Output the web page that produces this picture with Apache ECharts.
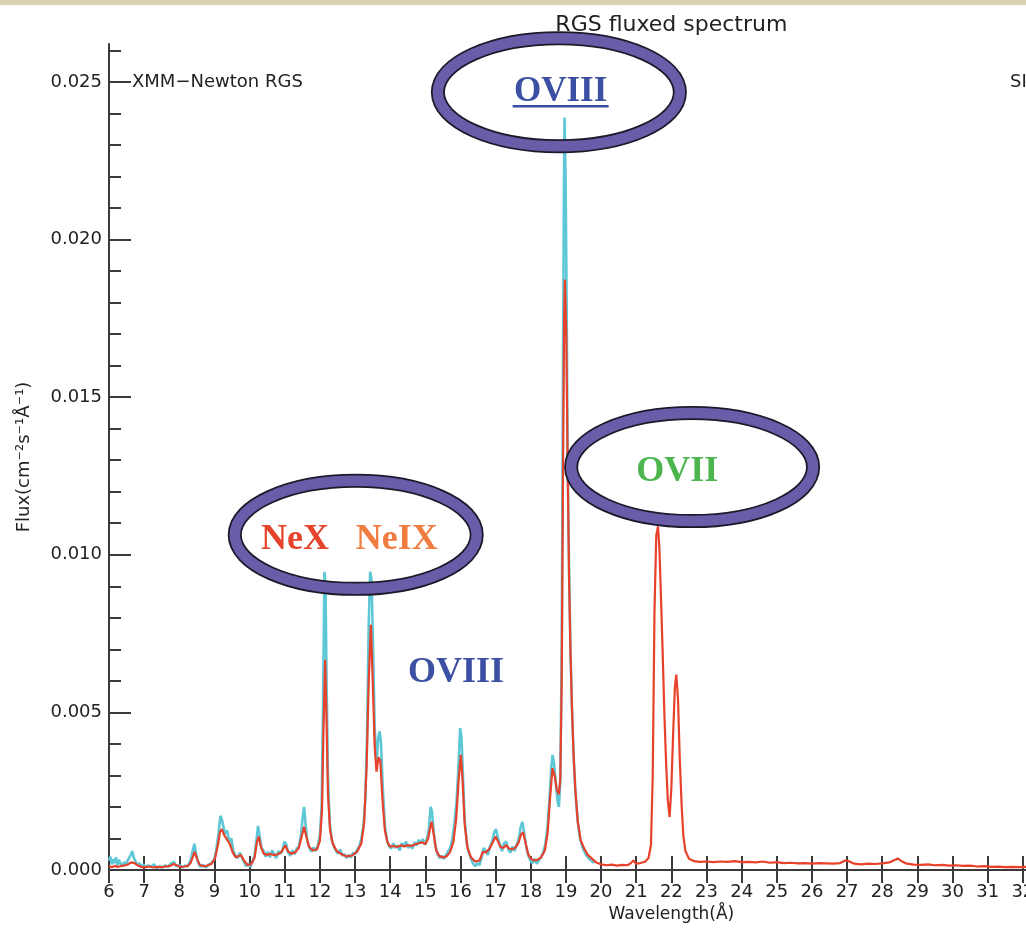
<!DOCTYPE html>
<html>
<head>
    <meta charset="utf-8">
    <style>
        body{
            margin: 0;
            background: #fff;
        }
        #chart-container{
            width: 1026px;
            height: 931px;
        }
    </style>
</head>
<body>
    <div id="chart-container"></div>

    <script type="text/javascript" src="https://cdn.jsdelivr.net/npm/echarts@6/dist/echarts.min.js"></script>
    <script type="text/javascript">
        // observed spectrum (cyan), [wavelength A, flux]
        var dataSpectrum = [
            [6.00,0.00030],[6.04,0.00042],[6.08,0.00018],[6.12,0.00035],[6.16,0.00022],[6.20,0.00040],[6.24,0.00015],[6.28,0.00032],
            [6.33,0.00020],[6.38,0.00012],[6.43,0.00025],[6.48,0.00018],[6.53,0.00030],[6.58,0.00035],[6.62,0.00048],[6.66,0.00060],
            [6.70,0.00040],[6.75,0.00028],[6.80,0.00016],[6.86,0.00022],[6.92,0.00010],[6.98,0.00018],[7.05,0.00008],[7.12,0.00015],
            [7.20,0.00010],[7.28,0.00018],[7.36,0.00006],[7.44,0.00012],[7.52,0.00008],[7.60,0.00015],[7.68,0.00010],[7.76,0.00020],
            [7.84,0.00026],[7.92,0.00012],[8.00,0.00016],[8.08,0.00008],[8.16,0.00014],[8.24,0.00012],[8.32,0.00030],[8.38,0.00060],
            [8.43,0.00083],[8.48,0.00050],[8.54,0.00022],[8.60,0.00010],[8.68,0.00016],[8.76,0.00008],[8.84,0.00018],[8.92,0.00022],
            [9.00,0.00035],[9.06,0.00070],[9.12,0.00120],[9.17,0.00172],[9.21,0.00160],[9.25,0.00140],[9.30,0.00115],[9.36,0.00125],
            [9.42,0.00090],[9.48,0.00100],[9.54,0.00060],[9.60,0.00045],[9.66,0.00038],[9.72,0.00055],[9.77,0.00050],[9.83,0.00028],
            [9.90,0.00012],[9.96,0.00020],[10.02,0.00010],[10.08,0.00025],[10.14,0.00045],[10.19,0.00090],[10.24,0.00140],[10.29,0.00105],
            [10.34,0.00070],[10.40,0.00060],[10.46,0.00042],[10.52,0.00058],[10.58,0.00040],[10.64,0.00062],[10.70,0.00050],[10.76,0.00038],
            [10.82,0.00060],[10.88,0.00052],[10.94,0.00065],[10.99,0.00090],[11.04,0.00082],[11.10,0.00055],[11.16,0.00045],[11.22,0.00062],
            [11.28,0.00050],[11.34,0.00068],[11.40,0.00075],[11.46,0.00110],[11.51,0.00165],[11.55,0.00200],[11.59,0.00150],[11.64,0.00095],
            [11.70,0.00070],[11.76,0.00058],[11.82,0.00072],[11.88,0.00060],[11.94,0.00078],[12.00,0.00110],[12.05,0.00200],[12.09,0.00520],
            [12.13,0.00946],[12.16,0.00900],[12.19,0.00600],[12.23,0.00300],[12.28,0.00150],[12.34,0.00095],[12.40,0.00075],[12.46,0.00060],
            [12.52,0.00052],[12.58,0.00065],[12.64,0.00045],[12.70,0.00050],[12.76,0.00038],[12.82,0.00048],[12.88,0.00040],[12.94,0.00055],
            [13.00,0.00050],[13.06,0.00065],[13.12,0.00075],[13.18,0.00100],[13.24,0.00140],[13.29,0.00220],[13.34,0.00420],[13.39,0.00780],
            [13.43,0.00946],[13.47,0.00920],[13.51,0.00720],[13.56,0.00450],[13.61,0.00330],[13.66,0.00420],[13.70,0.00440],[13.74,0.00400],
            [13.79,0.00260],[13.85,0.00140],[13.91,0.00095],[13.97,0.00075],[14.03,0.00068],[14.09,0.00085],[14.15,0.00070],[14.21,0.00078],
            [14.27,0.00062],[14.33,0.00085],[14.39,0.00075],[14.45,0.00090],[14.51,0.00070],[14.57,0.00080],[14.63,0.00068],[14.69,0.00088],
            [14.75,0.00078],[14.81,0.00095],[14.87,0.00085],[14.93,0.00098],[14.99,0.00080],[15.05,0.00100],[15.10,0.00130],[15.15,0.00200],
            [15.19,0.00185],[15.24,0.00120],[15.29,0.00075],[15.35,0.00050],[15.41,0.00038],[15.47,0.00045],[15.53,0.00035],[15.59,0.00048],
            [15.65,0.00060],[15.71,0.00070],[15.77,0.00100],[15.83,0.00150],[15.89,0.00220],[15.94,0.00320],[15.99,0.00450],[16.03,0.00420],
            [16.07,0.00300],[16.12,0.00160],[16.18,0.00085],[16.24,0.00055],[16.30,0.00035],[16.36,0.00020],[16.42,0.00012],[16.48,0.00022],
            [16.54,0.00015],[16.60,0.00040],[16.66,0.00070],[16.72,0.00060],[16.78,0.00048],[16.84,0.00075],[16.90,0.00090],[16.96,0.00120],
            [17.01,0.00130],[17.06,0.00105],[17.12,0.00080],[17.18,0.00060],[17.24,0.00085],[17.30,0.00090],[17.36,0.00065],[17.42,0.00055],
            [17.48,0.00075],[17.54,0.00060],[17.60,0.00080],[17.66,0.00100],[17.71,0.00135],[17.76,0.00153],[17.81,0.00120],[17.87,0.00075],
            [17.93,0.00045],[17.99,0.00030],[18.05,0.00022],[18.11,0.00035],[18.17,0.00020],[18.23,0.00030],[18.29,0.00040],[18.35,0.00055],
            [18.41,0.00080],[18.47,0.00130],[18.53,0.00220],[18.58,0.00320],[18.62,0.00365],[18.66,0.00340],[18.71,0.00280],[18.76,0.00220],
            [18.80,0.00200],[18.84,0.00280],[18.88,0.00700],[18.91,0.01400],[18.94,0.02100],[18.96,0.02387],[18.99,0.02200],[19.02,0.01800],
            [19.05,0.01300],[19.09,0.00950],[19.13,0.00700],[19.17,0.00520],[19.22,0.00360],[19.27,0.00250],[19.33,0.00160],[19.40,0.00100],
            [19.48,0.00070],[19.56,0.00050],[19.64,0.00038],[19.72,0.00030],[19.80,0.00022]
        ];

        // model spectrum (red), [wavelength A, flux]
        var modelSpectrum = [
            [6.00,0.00012],[6.08,0.00009],[6.16,0.00013],[6.24,0.00010],[6.32,0.00012],[6.40,0.00014],[6.48,0.00015],[6.56,0.00019],
            [6.63,0.00024],[6.68,0.00026],[6.74,0.00021],[6.82,0.00014],[6.92,0.00010],[7.02,0.00009],[7.14,0.00011],[7.26,0.00008],
            [7.38,0.00010],[7.50,0.00009],[7.62,0.00011],[7.74,0.00013],[7.84,0.00019],[7.92,0.00015],[8.02,0.00010],[8.14,0.00011],
            [8.24,0.00013],[8.32,0.00022],[8.38,0.00040],[8.44,0.00058],[8.50,0.00036],[8.58,0.00017],[8.68,0.00012],[8.80,0.00014],
            [8.92,0.00020],[9.02,0.00038],[9.10,0.00080],[9.16,0.00122],[9.21,0.00130],[9.27,0.00112],[9.35,0.00098],[9.44,0.00082],
            [9.52,0.00056],[9.60,0.00041],[9.68,0.00043],[9.75,0.00048],[9.84,0.00030],[9.94,0.00016],[10.04,0.00018],[10.14,0.00038],
            [10.21,0.00090],[10.26,0.00106],[10.32,0.00074],[10.40,0.00052],[10.50,0.00048],[10.60,0.00051],[10.70,0.00047],[10.80,0.00050],
            [10.90,0.00056],[10.97,0.00070],[11.02,0.00078],[11.08,0.00061],[11.18,0.00052],[11.30,0.00056],[11.40,0.00070],[11.48,0.00105],
            [11.55,0.00137],[11.61,0.00108],[11.69,0.00074],[11.80,0.00062],[11.92,0.00066],[12.00,0.00092],[12.06,0.00190],[12.10,0.00430],
            [12.15,0.00667],[12.19,0.00470],[12.23,0.00240],[12.29,0.00125],[12.37,0.00082],[12.48,0.00060],[12.62,0.00050],[12.76,0.00043],
            [12.92,0.00046],[13.06,0.00058],[13.18,0.00085],[13.26,0.00150],[13.33,0.00330],[13.39,0.00600],[13.45,0.00778],[13.50,0.00610],
            [13.56,0.00390],[13.61,0.00312],[13.67,0.00358],[13.72,0.00345],[13.78,0.00225],[13.85,0.00125],[13.92,0.00088],[14.00,0.00074],
            [14.10,0.00076],[14.20,0.00073],[14.30,0.00078],[14.40,0.00075],[14.50,0.00079],[14.60,0.00076],[14.70,0.00081],[14.80,0.00084],
            [14.90,0.00088],[15.00,0.00082],[15.08,0.00100],[15.13,0.00130],[15.18,0.00153],[15.24,0.00112],[15.31,0.00062],[15.40,0.00044],
            [15.50,0.00040],[15.60,0.00043],[15.70,0.00056],[15.80,0.00090],[15.88,0.00165],[15.95,0.00290],[16.01,0.00365],[16.06,0.00285],
            [16.12,0.00145],[16.20,0.00070],[16.30,0.00040],[16.42,0.00027],[16.54,0.00030],[16.64,0.00058],[16.72,0.00056],[16.82,0.00066],
            [16.92,0.00088],[17.00,0.00106],[17.07,0.00090],[17.14,0.00073],[17.22,0.00070],[17.30,0.00079],[17.38,0.00068],[17.47,0.00065],
            [17.56,0.00071],[17.65,0.00086],[17.72,0.00112],[17.78,0.00120],[17.84,0.00092],[17.92,0.00052],[18.00,0.00036],[18.10,0.00030],
            [18.20,0.00033],[18.30,0.00041],[18.40,0.00062],[18.48,0.00118],[18.55,0.00230],[18.62,0.00323],[18.68,0.00298],[18.74,0.00255],
            [18.80,0.00240],[18.84,0.00290],[18.88,0.00600],[18.92,0.01300],[18.95,0.01750],[18.97,0.01873],[19.01,0.01700],[19.05,0.01280],
            [19.09,0.00920],[19.13,0.00690],[19.17,0.00520],[19.22,0.00360],[19.27,0.00250],[19.34,0.00150],[19.42,0.00095],[19.52,0.00068],
            [19.62,0.00048],[19.74,0.00036],[19.86,0.00024],[20.00,0.00018],[20.15,0.00015],[20.30,0.00017],[20.45,0.00014],[20.60,0.00016],
            [20.75,0.00015],[20.85,0.00022],[20.92,0.00030],[21.00,0.00020],[21.12,0.00022],[21.25,0.00026],[21.35,0.00038],[21.42,0.00080],
            [21.47,0.00300],[21.52,0.00820],[21.57,0.01060],[21.62,0.01090],[21.66,0.01020],[21.70,0.00880],[21.75,0.00700],[21.80,0.00500],
            [21.85,0.00340],[21.90,0.00220],[21.95,0.00168],[22.00,0.00260],[22.05,0.00430],[22.10,0.00580],[22.14,0.00620],[22.19,0.00540],
            [22.24,0.00350],[22.29,0.00210],[22.34,0.00110],[22.40,0.00060],[22.50,0.00036],[22.65,0.00028],[22.80,0.00026],[23.00,0.00027],
            [23.20,0.00025],[23.40,0.00027],[23.60,0.00026],[23.80,0.00028],[24.00,0.00025],[24.20,0.00026],[24.40,0.00024],[24.60,0.00027],
            [24.80,0.00023],[25.00,0.00025],[25.20,0.00022],[25.40,0.00023],[25.60,0.00021],[25.80,0.00022],[26.00,0.00020],[26.20,0.00022],
            [26.40,0.00021],[26.60,0.00020],[26.80,0.00022],[26.95,0.00030],[27.05,0.00028],[27.20,0.00020],[27.40,0.00018],[27.60,0.00020],
            [27.80,0.00019],[28.00,0.00021],[28.20,0.00024],[28.35,0.00032],[28.45,0.00036],[28.55,0.00028],[28.70,0.00020],[28.90,0.00017],
            [29.10,0.00016],[29.30,0.00018],[29.50,0.00015],[29.70,0.00016],[29.90,0.00014],[30.10,0.00015],[30.30,0.00013],[30.50,0.00014],
            [30.70,0.00011],[30.90,0.00012],[31.10,0.00010],[31.30,0.00011],[31.50,0.00009],[31.70,0.00010],[31.90,0.00009],[32.10,0.00010],
            [32.30,0.00009]
        ];

        // tick values
        var waveTicks = [6,7,8,9,10,11,12,13,14,15,16,17,18,19,20,21,22,23,24,25,26,27,28,29,30,31,32];
        var fluxLabels = [0, 0.005, 0.010, 0.015, 0.020, 0.025];
        var fluxMinorTicks = [0,0.001,0.002,0.003,0.004,0.005,0.006,0.007,0.008,0.009,0.010,0.011,0.012,0.013,
            0.014,0.015,0.016,0.017,0.018,0.019,0.020,0.021,0.022,0.023,0.024,0.025,0.026];

        // line labels: text, colour, wavelength, flux (centre)
        var lineLabels = [
            { text: 'OVIII', color: '#3b4fa3', wave: 18.85, flux: 0.02467, size: 35, underline: true },
            { text: 'NeX', color: '#e5432c', wave: 11.29, flux: 0.01048, size: 36 },
            { text: 'NeIX', color: '#f07c40', wave: 14.19, flux: 0.01048, size: 36 },
            { text: 'OVIII', color: '#3b4fa3', wave: 15.87, flux: 0.00625, size: 36 },
            { text: 'OVII', color: '#4db54d', wave: 22.17, flux: 0.01263, size: 36 }
        ];
        // ring centres: wavelength, flux
        var ringCentres = [
            [18.80, 0.02467],
            [13.02, 0.01063],
            [22.59, 0.01278]
        ];
        // the plot's horizontal centre (title and axis name sit on it)
        var plotCentreWave = 22;

        var waveMin = 6, waveMax = 32.09;
        var fluxMax = 0.0262;

        var axisColor = '#3a3a3a';
        var labelFont = 'DejaVu Sans';

        var chartDom = document.getElementById('chart-container');
        var myChart = echarts.init(chartDom);

        var option = {
            animation: false,
            backgroundColor: '#fff',
            grid: { left: 109, top: 44, bottom: 61, right: 0, outerBoundsMode: 'none' },
            xAxis: [
                {
                    type: 'value', min: waveMin, max: waveMax,
                    axisLine: { show: true, lineStyle: { color: axisColor, width: 2 } },
                    axisTick: { inside: true, length: 14, customValues: waveTicks, lineStyle: { color: axisColor, width: 2 } },
                    axisLabel: { fontFamily: labelFont, fontSize: 18, color: '#222', margin: 13, customValues: waveTicks },
                    splitLine: { show: false }
                },
                {
                    type: 'value', position: 'top', min: waveMin, max: waveMax,
                    axisLine: { show: true, lineStyle: { color: axisColor, width: 2 } },
                    axisTick: { inside: true, length: 13, customValues: waveTicks, lineStyle: { color: axisColor, width: 2 } },
                    axisLabel: { show: false },
                    splitLine: { show: false }
                }
            ],
            yAxis: [
                {
                    type: 'value', position: 'left', min: 0, max: fluxMax,
                    name: 'Flux(cm⁻²s⁻¹Å⁻¹)', nameLocation: 'middle', nameGap: 76,
                    nameTextStyle: { fontFamily: labelFont, fontSize: 18, color: '#222' },
                    axisLine: { show: true, lineStyle: { color: axisColor, width: 2 } },
                    axisTick: { inside: true, length: 12, customValues: fluxMinorTicks, lineStyle: { color: axisColor, width: 2 } },
                    axisLabel: {
                        fontFamily: labelFont, fontSize: 18, color: '#222', margin: 7,
                        customValues: fluxLabels,
                        formatter: function (v) { return v.toFixed(3); }
                    },
                    splitLine: { show: false }
                },
                {
                    // longer ticks on the labelled values
                    type: 'value', position: 'left', offset: 0, min: 0, max: fluxMax,
                    axisLine: { show: false },
                    axisTick: { inside: true, length: 22, customValues: fluxLabels, lineStyle: { color: axisColor, width: 2 } },
                    axisLabel: { show: false },
                    splitLine: { show: false }
                }
            ],
            series: [
                {
                    name: 'data', type: 'line', data: dataSpectrum,
                    showSymbol: false, symbol: 'none',
                    lineStyle: { color: '#5ec7d6', width: 2.6 },
                    z: 2
                },
                {
                    name: 'model', type: 'line', data: modelSpectrum,
                    showSymbol: false, symbol: 'none',
                    lineStyle: { color: '#e8412b', width: 2.2 },
                    z: 3
                }
            ]
        };
        myChart.setOption(option);

        // annotations placed from data coordinates
        var toPx = function (w, f) {
            return myChart.convertToPixel({ gridIndex: 0 }, [w, f]);
        };
        var txt = function (text, x, y, font, fill, align, z) {
            return {
                type: 'text', z: z || 100,
                style: {
                    text: text, x: x, y: y, font: font, fill: fill,
                    textAlign: align, textVerticalAlign: 'middle', align: align, verticalAlign: 'middle'
                }
            };
        };
        var elements = [];
        elements.push({
            type: 'rect', shape: { x: 0, y: 0, width: 1026, height: 5 },
            style: { fill: '#d9d3b4' }, z: 100
        });
        var pTop = toPx(plotCentreWave, fluxMax);
        var pBottom = toPx(plotCentreWave, 0);
        elements.push(txt('RGS fluxed spectrum', pTop[0], pTop[1] - 19, '22px "DejaVu Sans"', '#222', 'center'));
        elements.push(txt('Wavelength(Å)', pBottom[0], pBottom[1] + 45, '17px "DejaVu Sans"', '#222', 'center'));
        var p25 = toPx(waveMin, 0.025);
        elements.push(txt('XMM−Newton RGS', p25[0] + 23, p25[1], '18px "DejaVu Sans"', '#222', 'left'));
        elements.push(txt('SI', 1010, p25[1], '18px "DejaVu Sans"', '#222', 'left'));
        ringCentres.forEach(function (c) {
            var p = toPx(c[0], c[1]);
            elements.push({
                type: 'ellipse', z: 110,
                shape: { cx: p[0], cy: p[1], rx: 121, ry: 54 },
                style: { fill: 'none', stroke: '#1c1a2a', lineWidth: 14 }
            });
            elements.push({
                type: 'ellipse', z: 111,
                shape: { cx: p[0], cy: p[1], rx: 121, ry: 54 },
                style: { fill: 'none', stroke: '#6b5ca9', lineWidth: 10.5 }
            });
        });
        lineLabels.forEach(function (l) {
            var p = toPx(l.wave, l.flux);
            elements.push(txt(l.text, p[0], p[1], 'bold ' + l.size + 'px "Liberation Serif"', l.color, 'center', 120));
            if (l.underline) {
                elements.push({
                    type: 'line', z: 120,
                    shape: { x1: p[0] - 48, y1: p[1] + 14, x2: p[0] + 48, y2: p[1] + 14 },
                    style: { stroke: l.color, lineWidth: 2.5 }
                });
            }
        });
        myChart.setOption({ graphic: { elements: elements } });
    </script>
</body>
</html>
